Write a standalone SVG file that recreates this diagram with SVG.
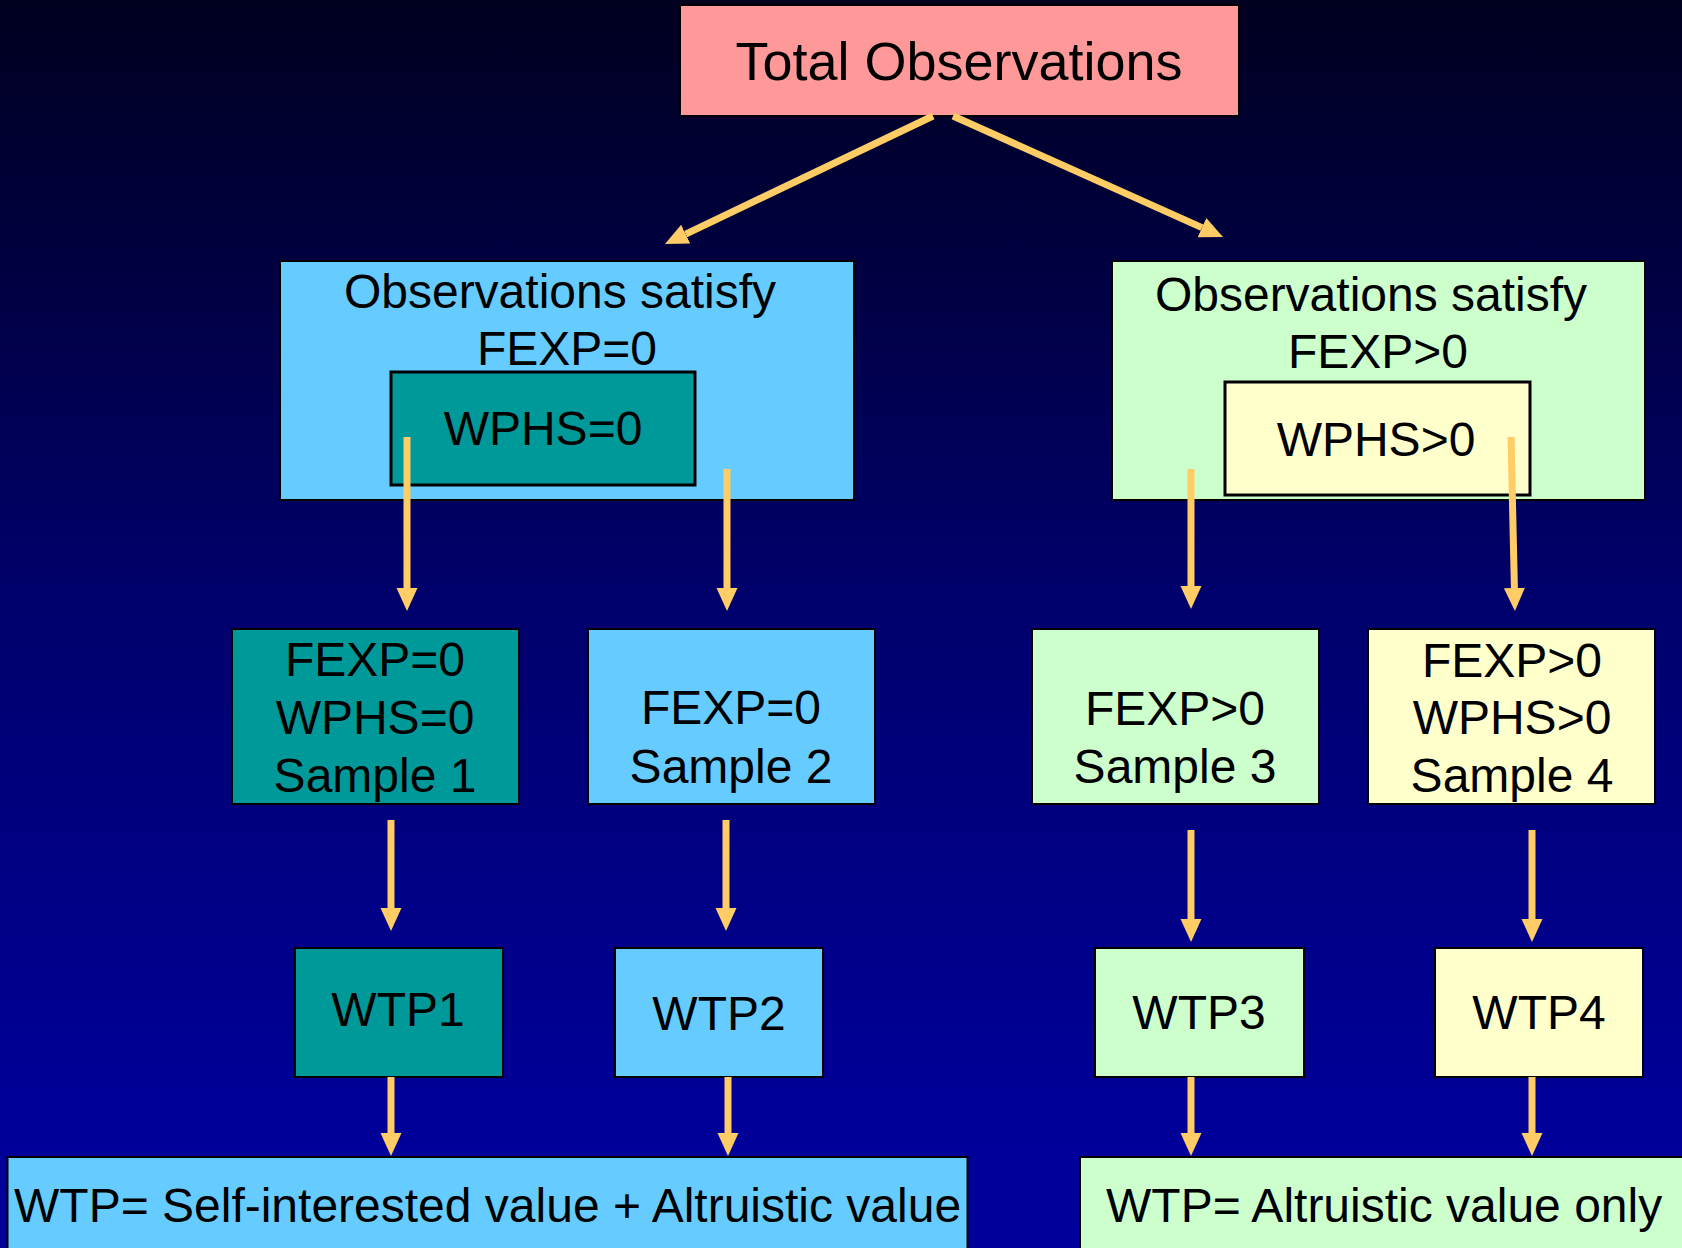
<svg xmlns="http://www.w3.org/2000/svg" width="1682" height="1248" viewBox="0 0 1682 1248">
<defs>
<linearGradient id="bg" x1="0" y1="0" x2="0" y2="1">
<stop offset="0" stop-color="#00001f"/>
<stop offset="0.48" stop-color="#00006c"/>
<stop offset="0.9" stop-color="#000099"/>
<stop offset="1" stop-color="#00009c"/>
</linearGradient>
<marker id="ah" markerUnits="userSpaceOnUse" markerWidth="24" markerHeight="24" viewBox="0 -12 24 24" refX="0" refY="0" orient="auto">
<path d="M0,-10.5 L23,0 L0,10.5 Z" fill="#FFCC66"/>
</marker>
<style>
text{font-family:"Liberation Sans",Arial,sans-serif;font-size:48px;fill:#000;text-anchor:middle}
.box{stroke:#000;stroke-width:2}
.inner{stroke:#000;stroke-width:3}
.pink{fill:#FF9999}
.blue{fill:#66CCFF}
.teal{fill:#009999}
.green{fill:#CCFFCC}
.yellow{fill:#FFFFCC}
.arr{stroke:#FFCC66;stroke-width:7;fill:none;marker-end:url(#ah)}
</style>
</defs>
<rect width="1682" height="1248" fill="url(#bg)"/>

<g id="total">
<rect class="box pink" x="680" y="5" width="559" height="111"/>
<text x="959" y="80" style="font-size:54px">Total Observations</text>
</g>

<g id="fexp0">
<rect class="box blue" x="280" y="261" width="574" height="239"/>
<text x="560" y="308">Observations satisfy</text>
<text x="567" y="365">FEXP=0</text>
</g>
<g id="wphs0">
<rect class="inner teal" x="391" y="372" width="304" height="113"/>
<text x="543" y="445">WPHS=0</text>
</g>

<g id="fexpgt0">
<rect class="box green" x="1112" y="261" width="533" height="239"/>
<text x="1371" y="311">Observations satisfy</text>
<text x="1378" y="368">FEXP&gt;0</text>
</g>
<g id="wphsgt0">
<rect class="inner yellow" x="1225" y="382" width="305" height="113"/>
<text x="1376" y="456">WPHS&gt;0</text>
</g>

<g id="sample1">
<rect class="box teal" x="232" y="629" width="287" height="175"/>
<text x="375" y="676">FEXP=0</text>
<text x="375" y="734">WPHS=0</text>
<text x="375" y="792">Sample 1</text>
</g>
<g id="sample2">
<rect class="box blue" x="588" y="629" width="287" height="175"/>
<text x="731" y="724">FEXP=0</text>
<text x="731" y="783">Sample 2</text>
</g>
<g id="sample3">
<rect class="box green" x="1032" y="629" width="287" height="175"/>
<text x="1175" y="725">FEXP&gt;0</text>
<text x="1175" y="783">Sample 3</text>
</g>
<g id="sample4">
<rect class="box yellow" x="1368" y="629" width="287" height="175"/>
<text x="1512" y="677">FEXP&gt;0</text>
<text x="1512" y="734">WPHS&gt;0</text>
<text x="1512" y="792">Sample 4</text>
</g>

<g id="wtp1">
<rect class="box teal" x="295" y="948" width="208" height="129"/>
<text x="398" y="1026">WTP1</text>
</g>
<g id="wtp2">
<rect class="box blue" x="615" y="948" width="208" height="129"/>
<text x="719" y="1030">WTP2</text>
</g>
<g id="wtp3">
<rect class="box green" x="1095" y="948" width="209" height="129"/>
<text x="1199" y="1029">WTP3</text>
</g>
<g id="wtp4">
<rect class="box yellow" x="1435" y="948" width="208" height="129"/>
<text x="1539" y="1029">WTP4</text>
</g>

<g id="result-left">
<rect class="box blue" x="7.5" y="1157" width="960" height="100"/>
<text x="14" y="1222" style="text-anchor:start">WTP= Self-interested value + Altruistic value</text>
</g>
<g id="result-right">
<rect class="box green" x="1080" y="1157" width="620" height="100"/>
<text x="1106" y="1222" style="text-anchor:start">WTP= Altruistic value only</text>
</g>

<g id="connectors">
<line class="arr" x1="933" y1="116" x2="685.7" y2="234.1"/>
<line class="arr" x1="953" y1="116" x2="1202" y2="227.6"/>
<line class="arr" x1="407" y1="437" x2="407" y2="588"/>
<line class="arr" x1="727" y1="469" x2="727" y2="588"/>
<line class="arr" x1="1191" y1="469" x2="1191" y2="586"/>
<line class="arr" x1="1511" y1="437" x2="1514.4" y2="588"/>
<line class="arr" x1="391" y1="820" x2="391" y2="908"/>
<line class="arr" x1="726" y1="820" x2="726" y2="908"/>
<line class="arr" x1="1191" y1="830" x2="1191" y2="919"/>
<line class="arr" x1="1532" y1="830" x2="1532" y2="919"/>
<line class="arr" x1="391" y1="1077" x2="391" y2="1133"/>
<line class="arr" x1="728" y1="1077" x2="728" y2="1133"/>
<line class="arr" x1="1191" y1="1077" x2="1191" y2="1133"/>
<line class="arr" x1="1532" y1="1077" x2="1532" y2="1133"/>
</g>
</svg>
